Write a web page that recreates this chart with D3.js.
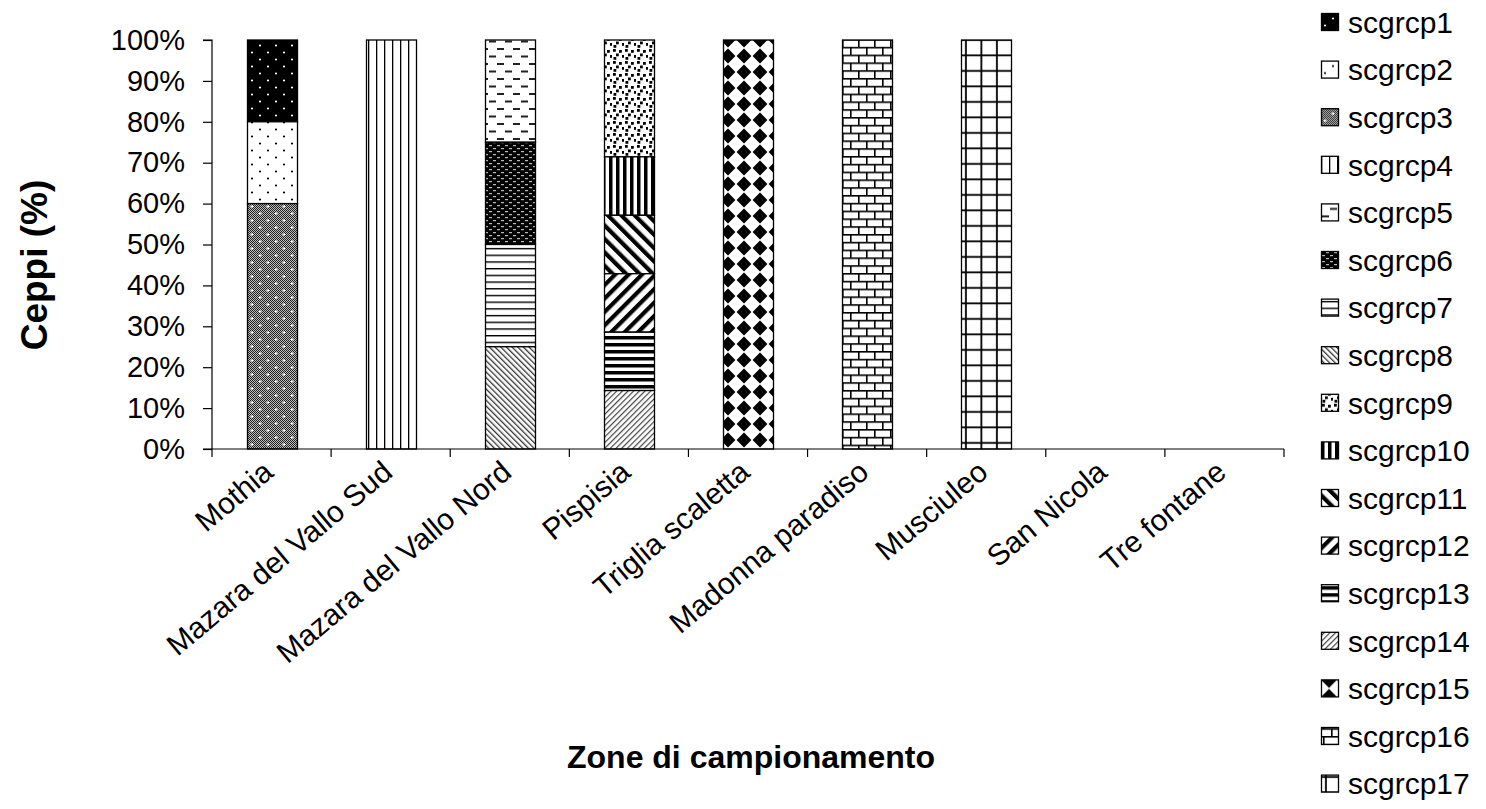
<!DOCTYPE html>
<html>
<head>
<meta charset="utf-8">
<script src="https://cdn.jsdelivr.net/npm/d3@7/dist/d3.min.js"></script>
<style>
  html, body { margin: 0; padding: 0; background: #fff; }
  svg { display: block; }
  text { font-family: "Liberation Sans", Arial, sans-serif; fill: #000; }
</style>
</head>
<body>
<svg id="chart" width="1486" height="809"></svg>
<script>
// Sampling zones (x categories)
const categories = ["Mothia", "Mazara del Vallo Sud", "Mazara del Vallo Nord", "Pispisia",
  "Triglia scaletta", "Madonna paradiso", "Musciuleo", "San Nicola", "Tre fontane"];

// Strain groups (series), percentage of strains per zone
const seriesNames = ["scgrcp1", "scgrcp2", "scgrcp3", "scgrcp4", "scgrcp5", "scgrcp6", "scgrcp7",
  "scgrcp8", "scgrcp9", "scgrcp10", "scgrcp11", "scgrcp12", "scgrcp13", "scgrcp14",
  "scgrcp15", "scgrcp16", "scgrcp17"];

const scgrcp1  = [20, 0, 0, 0, 0, 0, 0, 0, 0];
const scgrcp2  = [20, 0, 0, 0, 0, 0, 0, 0, 0];
const scgrcp3  = [60, 0, 0, 0, 0, 0, 0, 0, 0];
const scgrcp4  = [0, 100, 0, 0, 0, 0, 0, 0, 0];
const scgrcp5  = [0, 0, 25, 0, 0, 0, 0, 0, 0];
const scgrcp6  = [0, 0, 25, 0, 0, 0, 0, 0, 0];
const scgrcp7  = [0, 0, 25, 0, 0, 0, 0, 0, 0];
const scgrcp8  = [0, 0, 25, 0, 0, 0, 0, 0, 0];
const scgrcp9  = [0, 0, 0, 28.57, 0, 0, 0, 0, 0];
const scgrcp10 = [0, 0, 0, 14.29, 0, 0, 0, 0, 0];
const scgrcp11 = [0, 0, 0, 14.29, 0, 0, 0, 0, 0];
const scgrcp12 = [0, 0, 0, 14.28, 0, 0, 0, 0, 0];
const scgrcp13 = [0, 0, 0, 14.28, 0, 0, 0, 0, 0];
const scgrcp14 = [0, 0, 0, 14.29, 0, 0, 0, 0, 0];
const scgrcp15 = [0, 0, 0, 0, 100, 0, 0, 0, 0];
const scgrcp16 = [0, 0, 0, 0, 0, 100, 0, 0, 0];
const scgrcp17 = [0, 0, 0, 0, 0, 0, 100, 0, 0];

const seriesValues = [scgrcp1, scgrcp2, scgrcp3, scgrcp4, scgrcp5, scgrcp6, scgrcp7, scgrcp8,
  scgrcp9, scgrcp10, scgrcp11, scgrcp12, scgrcp13, scgrcp14, scgrcp15, scgrcp16, scgrcp17];

const yTicks = [0, 10, 20, 30, 40, 50, 60, 70, 80, 90, 100];

const yTitle = "Ceppi (%)";
const xTitle = "Zone di campionamento";

// Table built for d3.stack
const rows = categories.map((c, i) => {
  const r = { zone: c };
  seriesNames.forEach((s, j) => { r[s] = seriesValues[j][i]; });
  return r;
});

const svg = d3.select("#chart");
const defs = svg.append("defs");

// ---- monochrome fill patterns ----
function pat(id, w, h, transform) {
  const p = defs.append("pattern").attr("id", id).attr("patternUnits", "userSpaceOnUse")
    .attr("x", 0).attr("y", 0).attr("width", w).attr("height", h);
  if (transform) p.attr("patternTransform", transform);
  return p;
}
// fine 50% checker used as a grey tone
{ const p = pat("chk", 2, 2);
  p.append("rect").attr("width", 2).attr("height", 2).attr("fill", "#fff");
  p.append("rect").attr("width", 1).attr("height", 1).attr("fill", "#000");
  p.append("rect").attr("x", 1).attr("y", 1).attr("width", 1).attr("height", 1).attr("fill", "#000"); }

// 1: black with white dots
{ const p = pat("p1", 16, 14);
  p.append("rect").attr("width", 16).attr("height", 14).attr("fill", "#000");
  [[4, 3.5], [12, 10.5]].forEach(([x, y]) => p.append("circle").attr("cx", x).attr("cy", y).attr("r", 1.1).attr("fill", "#fff")); }
// 2: white with black dots
{ const p = pat("p2", 16, 14);
  p.append("rect").attr("width", 16).attr("height", 14).attr("fill", "#fff");
  [[4, 3.5], [12, 10.5]].forEach(([x, y]) => p.append("circle").attr("cx", x).attr("cy", y).attr("r", 1.1).attr("fill", "#000")); }
// 3: grey checker with white sparkles
{ const p = pat("p3", 16, 14);
  p.append("rect").attr("width", 16).attr("height", 14).attr("fill", "#555");
  p.append("rect").attr("width", 16).attr("height", 14).attr("fill", "url(#chk)").attr("opacity", 0.6);
  [[4, 3.5], [12, 10.5]].forEach(([x, y]) => {
    p.append("rect").attr("x", x - 1.5).attr("y", y - 0.5).attr("width", 3).attr("height", 1).attr("fill", "#fff");
    p.append("rect").attr("x", x - 0.5).attr("y", y - 1.5).attr("width", 1).attr("height", 3).attr("fill", "#fff");
  }); }
// 4: thin vertical lines
{ const p = pat("p4", 8, 8);
  p.append("rect").attr("width", 8).attr("height", 8).attr("fill", "#fff");
  p.append("rect").attr("x", 0).attr("width", 1.3).attr("height", 8).attr("fill", "#000"); }
// 5: dashes
{ const p = pat("p5", 16, 15);
  p.append("rect").attr("width", 16).attr("height", 15).attr("fill", "#fff");
  p.append("rect").attr("x", 1).attr("y", 3).attr("width", 7).attr("height", 2).attr("fill", "#222");
  p.append("rect").attr("x", 9).attr("y", 10.5).attr("width", 7).attr("height", 2).attr("fill", "#222"); }
// 6: dark with small light dashes
{ const p = pat("p6", 8, 6);
  p.append("rect").attr("width", 8).attr("height", 6).attr("fill", "#000");
  p.append("rect").attr("x", 1).attr("y", 1).attr("width", 3).attr("height", 1.2).attr("fill", "#bbb");
  p.append("rect").attr("x", 5).attr("y", 4).attr("width", 3).attr("height", 1.2).attr("fill", "#bbb"); }
// 7: thin horizontal lines
{ const p = pat("p7", 8, 6.7);
  p.append("rect").attr("width", 8).attr("height", 6.7).attr("fill", "#fff");
  p.append("rect").attr("y", 0).attr("width", 8).attr("height", 1.4).attr("fill", "#000"); }
// 8: thin "\" diagonals
{ const p = pat("p8", 4, 4, "rotate(-45)");
  p.append("rect").attr("width", 4).attr("height", 4).attr("fill", "#fff");
  p.append("rect").attr("width", 1.3).attr("height", 4).attr("fill", "#333"); }
// 9: confetti squares
{ const p = pat("p9", 12, 12);
  p.append("rect").attr("width", 12).attr("height", 12).attr("fill", "#fff");
  [[1, 1], [7, 2], [4, 5.5], [10, 7], [1.5, 9]].forEach(([x, y]) =>
    p.append("rect").attr("x", x).attr("y", y).attr("width", 2.8).attr("height", 2.8).attr("fill", "#000")); }
// 10: thick vertical stripes
{ const p = pat("p10", 7, 8);
  p.append("rect").attr("width", 7).attr("height", 8).attr("fill", "#fff");
  p.append("rect").attr("x", 0).attr("width", 3.5).attr("height", 8).attr("fill", "#000"); }
// 11: thick "\" diagonals
{ const p = pat("p11", 9.5, 9.5, "rotate(-45)");
  p.append("rect").attr("width", 9.5).attr("height", 9.5).attr("fill", "#fff");
  p.append("rect").attr("width", 4.2).attr("height", 9.5).attr("fill", "#000"); }
// 12: thick "/" diagonals
{ const p = pat("p12", 9.5, 9.5, "rotate(45)");
  p.append("rect").attr("width", 9.5).attr("height", 9.5).attr("fill", "#fff");
  p.append("rect").attr("width", 4.2).attr("height", 9.5).attr("fill", "#000"); }
// 13: thick horizontal stripes
{ const p = pat("p13", 8, 7);
  p.append("rect").attr("width", 8).attr("height", 7).attr("fill", "#fff");
  p.append("rect").attr("y", 0).attr("width", 8).attr("height", 3.5).attr("fill", "#000"); }
// 14: thin "/" diagonals
{ const p = pat("p14", 4, 4, "rotate(45)");
  p.append("rect").attr("width", 4).attr("height", 4).attr("fill", "#fff");
  p.append("rect").attr("width", 1.2).attr("height", 4).attr("fill", "#444"); }
// 15: diamond checker
{ const p = pat("p15", 16, 16);
  p.append("rect").attr("width", 16).attr("height", 16).attr("fill", "#fff");
  p.append("path").attr("d", "M8,0.6L15.4,8L8,15.4L0.6,8Z").attr("fill", "#000"); }
// 16: brick
{ const p = pat("p16", 16, 15.6);
  p.append("rect").attr("width", 16).attr("height", 15.6).attr("fill", "#fff");
  p.append("rect").attr("y", 0).attr("width", 16).attr("height", 1.6).attr("fill", "#000");
  p.append("rect").attr("y", 7.8).attr("width", 16).attr("height", 1.6).attr("fill", "#000");
  p.append("rect").attr("x", 2).attr("y", 0).attr("width", 1.6).attr("height", 7.8).attr("fill", "#000");
  p.append("rect").attr("x", 10).attr("y", 7.8).attr("width", 1.6).attr("height", 7.8).attr("fill", "#000"); }
// 17: square grid
{ const p = pat("p17", 15.5, 15.5);
  p.append("rect").attr("width", 15.5).attr("height", 15.5).attr("fill", "#fff");
  p.append("rect").attr("x", 4).attr("width", 1.8).attr("height", 15.5).attr("fill", "#000");
  p.append("rect").attr("y", 8).attr("width", 15.5).attr("height", 1.8).attr("fill", "#000"); }

const fillFor = d3.scaleOrdinal().domain(seriesNames).range(seriesNames.map((s, i) => `url(#p${i + 1})`));

// ---- scales ----
const plotLeft = 212, plotRight = 1284, plotTop = 40, plotBottom = 449;
const x = d3.scaleBand().domain(categories).range([plotLeft, plotRight]).paddingInner(0).paddingOuter(0);
const y = d3.scaleLinear().domain([0, 100]).range([plotBottom, plotTop]);
const barW = 50;

const stack = d3.stack().keys(seriesNames).order(d3.stackOrderReverse);
const stacked = stack(rows);

// ---- bars ----
const gBars = svg.append("g");
stacked.forEach(layer => {
  gBars.append("g").attr("fill", fillFor(layer.key))
    .selectAll("rect")
    .data(layer.filter(d => d[1] - d[0] > 0))
    .join("rect")
    .attr("x", d => Math.round(x(d.data.zone) + (x.bandwidth() - barW) / 2) + 0.5)
    .attr("y", d => y(d[1]))
    .attr("width", barW)
    .attr("height", d => y(d[0]) - y(d[1]))
    .attr("stroke", "#000")
    .attr("stroke-width", 1.3);
});

// ---- axes ----
const yAxis = d3.axisLeft(y).tickValues(yTicks).tickFormat(d => d + "%").tickSize(9).tickPadding(18);
const gy = svg.append("g").attr("transform", `translate(${plotLeft},0)`).call(yAxis);
gy.select(".domain").attr("stroke", "#000").attr("stroke-width", 1.2).attr("d", `M-9,${plotTop}H0V${plotBottom}H-9`);
gy.selectAll(".tick line").attr("stroke", "#000").attr("stroke-width", 1.2);
gy.selectAll(".tick text").style("font-size", "29px").style("font-family", "'Liberation Sans', Arial, sans-serif").attr("fill", "#000");

const gx = svg.append("g").attr("transform", `translate(0,${plotBottom})`);
gx.append("line").attr("x1", plotLeft).attr("x2", plotRight).attr("stroke", "#000").attr("stroke-width", 1.2);
const bounds = categories.map(c => x(c)).concat([plotRight]);
gx.selectAll("line.tk").data(bounds).join("line").attr("class", "tk")
  .attr("x1", d => d).attr("x2", d => d).attr("y1", 0).attr("y2", 8)
  .attr("stroke", "#000").attr("stroke-width", 1.2);
gx.selectAll("text.cat").data(categories).join("text").attr("class", "cat")
  .attr("transform", d => `translate(${x(d) + x.bandwidth() / 2 - 10},${10}) rotate(-40)`)
  .attr("text-anchor", "end")
  .attr("dy", "0.7em")
  .style("font-size", "30px")
  .text(d => d);

// ---- titles ----
svg.append("text").attr("transform", "translate(47,265) rotate(-90)")
  .attr("text-anchor", "middle").style("font-size", "37px").style("font-weight", "bold").text(yTitle);
svg.append("text").attr("x", 751).attr("y", 768)
  .attr("text-anchor", "middle").style("font-size", "32px").style("font-weight", "bold").text(xTitle);

// ---- legend ----
const legend = svg.append("g").attr("transform", "translate(1321,22)");
const item = legend.selectAll("g").data(seriesNames).join("g")
  .attr("transform", (d, i) => `translate(0,${i * 47.6})`);
item.append("rect").attr("x", 0.5).attr("y", -8.5).attr("width", 17).attr("height", 17)
  .attr("fill", d => fillFor(d)).attr("stroke", "#000").attr("stroke-width", 1.3);
item.append("text").attr("x", 27).attr("dy", "0.36em").style("font-size", "30px").text(d => d);
</script>
</body>
</html>
